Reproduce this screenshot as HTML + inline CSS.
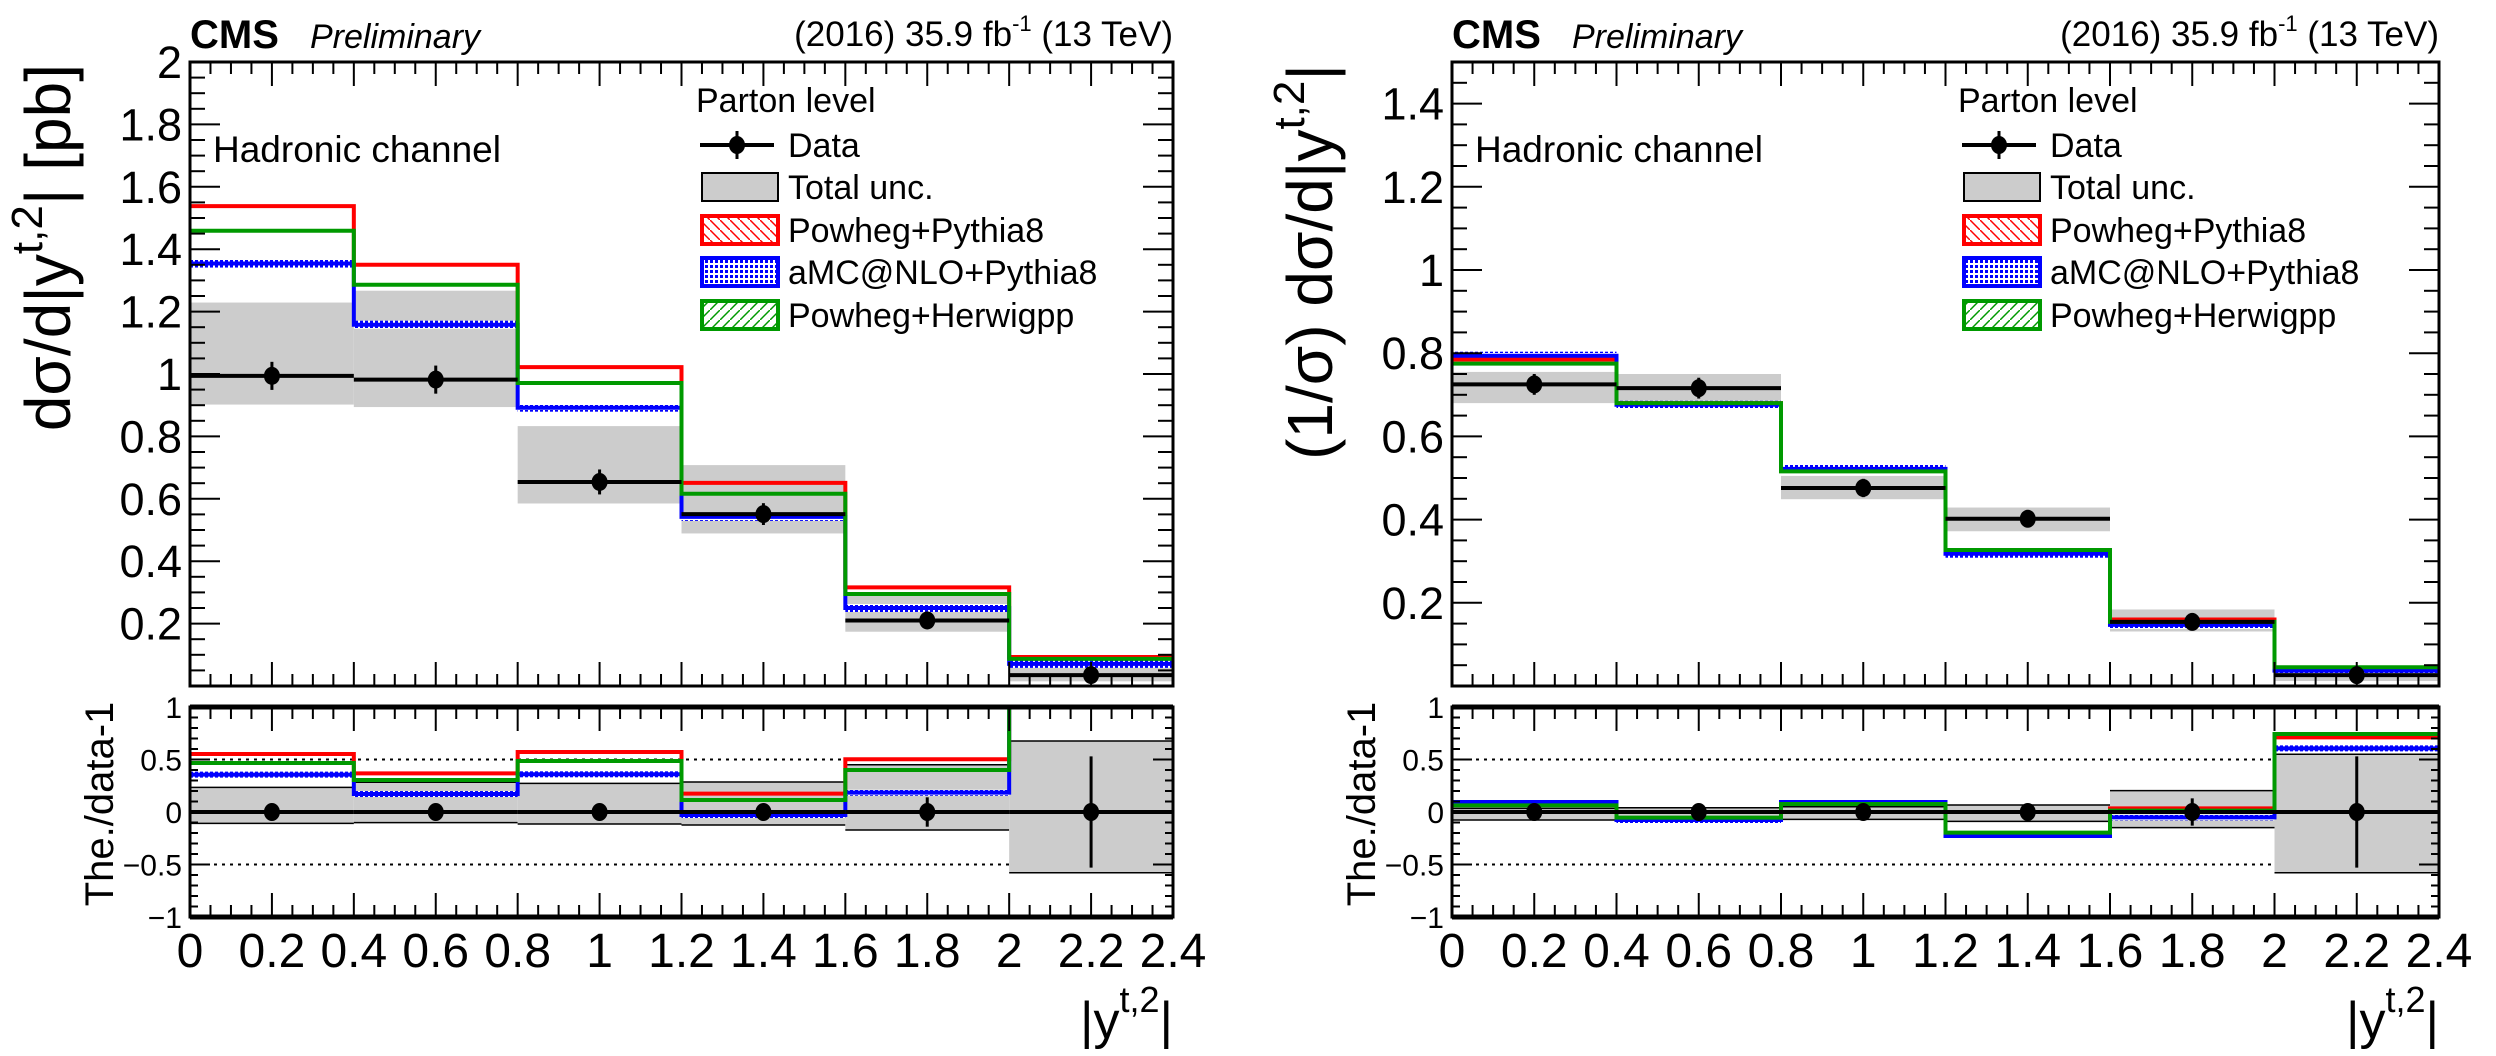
<!DOCTYPE html>
<html><head><meta charset="utf-8"><style>
html,body{margin:0;padding:0;background:#fff;}
svg{display:block;font-family:"Liberation Sans",sans-serif;}
</style></head><body>
<svg id="chart" width="2496" height="1056" viewBox="0 0 2496 1056" xmlns="http://www.w3.org/2000/svg">
<defs>
<pattern id="hatchR" width="10" height="10" patternUnits="userSpaceOnUse"><path d="M0,0 L10,10" stroke="#f00" stroke-width="1.5"/></pattern>
<pattern id="hatchG" width="10" height="10" patternUnits="userSpaceOnUse"><path d="M10,0 L0,10" stroke="#090" stroke-width="1.5"/></pattern>
<pattern id="dotB" width="5" height="5" patternUnits="userSpaceOnUse"><rect width="5" height="5" fill="#fff"/><rect width="3" height="3" fill="#00f"/></pattern>
</defs>
</svg>
<script>
// ---- data ----
const binEdges = [0,0.4,0.8,1.2,1.6,2.0,2.4];
const xTickLabels = ["0","0.2","0.4","0.6","0.8","1","1.2","1.4","1.6","1.8","2","2.2","2.4"];
// left panel (absolute)
const absData = [0.994,0.982,0.654,0.551,0.210,0.035];
const absDataErr = [0.045,0.045,0.04,0.035,0.02,0.02];
const absUncHi = [1.229,1.267,0.833,0.708,0.295,0.060];
const absUncLo = [0.902,0.894,0.585,0.489,0.174,0.015];
const absPowPy = [1.538,1.350,1.022,0.651,0.316,0.093];
const absAmc = [1.354,1.158,0.892,0.542,0.250,0.071];
const absPowHw = [1.459,1.286,0.971,0.616,0.295,0.087];
const absYTicks = ["0.2","0.4","0.6","0.8","1","1.2","1.4","1.6","1.8","2"];
// left ratio
const absRatioErr = [0.05,0.05,0.06,0.06,0.14,0.53];
const absRUncHi = [0.235,0.283,0.273,0.286,0.45,0.676];
const absRUncLo = [-0.108,-0.101,-0.114,-0.124,-0.171,-0.578];
const absRPowPy = [0.552,0.368,0.571,0.175,0.502,1.4];
const absRAmc = [0.356,0.171,0.359,-0.029,0.184,1.05];
const absRPowHw = [0.467,0.305,0.486,0.114,0.40,1.3];
// right panel (normalised)
const normData = [0.725,0.716,0.476,0.402,0.154,0.026];
const normDataErr = [0.025,0.025,0.022,0.02,0.012,0.012];
const normUncHi = [0.755,0.750,0.505,0.429,0.184,0.040];
const normUncLo = [0.680,0.684,0.449,0.372,0.131,0.012];
const normPowPy = [0.785,0.680,0.518,0.325,0.160,0.042];
const normAmc = [0.794,0.676,0.522,0.318,0.147,0.037];
const normPowHw = [0.775,0.680,0.516,0.327,0.154,0.045];
const normYTicks = ["0.2","0.4","0.6","0.8","1","1.2","1.4"];
// right ratio
const normRatioErr = [0.05,0.05,0.05,0.05,0.13,0.53];
const normRUncHi = [0.035,0.041,0.05,0.067,0.203,0.55];
const normRUncLo = [-0.076,-0.045,-0.07,-0.089,-0.149,-0.578];
const normRPowPy = [0.08,-0.06,0.085,-0.21,0.035,0.711];
const normRAmc = [0.095,-0.076,0.095,-0.229,-0.051,0.606];
const normRPowHw = [0.063,-0.054,0.076,-0.197,0.013,0.743];
const ratioYTicks = [-1,-0.5,0,0.5,1];
const ratioYLabels = ["\u22121","\u22120.5","0","0.5","1"];

const svg = document.getElementById('chart');
const NS = 'http://www.w3.org/2000/svg';
function mk(tag, attrs, parent, text){
  const e = document.createElementNS(NS, tag);
  for (const k in attrs) e.setAttribute(k, attrs[k]);
  if (text !== undefined) e.textContent = text;
  (parent||svg).appendChild(e);
  return e;
}

function drawPanel(X0, X1, name, ymax, data, dErr, uHi, uLo, pp, amc, hw, yTicks, rErr, ruHi, ruLo, rpp, ramc, rhw, yTitle){
  const MT=62, MB=686, RT=707, RB=917;
  const x = v => X0 + (v/2.4)*(X1-X0);
  const y = v => MB - (v/ymax)*(MB-MT);
  const yr = v => RB - ((v+1)/2)*(RB-RT);
  const g = mk('g', {});
  
  
  const clipId = name+'clipM', clipR = name+'clipR';
  const cp = mk('clipPath',{id:clipId},g); mk('rect',{x:X0,y:MT,width:X1-X0,height:MB-MT},cp);
  const cr = mk('clipPath',{id:clipR},g); mk('rect',{x:X0,y:RT,width:X1-X0,height:RB-RT},cr);

  // ---- main panel ----
  const mg = mk('g',{'clip-path':'url(#'+clipId+')'},g);
  for (let i=0;i<6;i++){
    const r = mk('rect',{x:x(binEdges[i]),y:y(uHi[i]),width:x(binEdges[i+1])-x(binEdges[i]),height:y(uLo[i])-y(uHi[i]),fill:'#cccccc'},mg);
    
    
  }
  function step(vals, fy, color, w, nm, parent){
    let d='';
    for (let i=0;i<6;i++){
      d += (i===0?'M':'L')+x(binEdges[i])+','+fy(vals[i])+' L'+x(binEdges[i+1])+','+fy(vals[i]);
    }
    const p = mk('path',{d:d,fill:'none',stroke:color,'stroke-width':w},parent);
    
    
    return p;
  }
  function band(vals, fy, half, fill, parent){
    for (let i=0;i<6;i++){
      mk('rect',{x:x(binEdges[i]),y:fy(vals[i])-half,width:x(binEdges[i+1])-x(binEdges[i]),height:2*half,fill:fill},parent);
    }
  }
  band(amc, y, 4, 'url(#dotB)', mg);
  step(pp, y, '#ff0000', 4, name+'-powheg-pythia8', mg);
  step(amc, y, '#0000ff', 4, name+'-amcnlo-pythia8', mg);
  step(hw, y, '#009900', 4, name+'-powheg-herwigpp', mg);
  function dataPts(vals, errs, fy, parent, nm){
    for (let i=0;i<6;i++){
      const cx = x((binEdges[i]+binEdges[i+1])/2);
      mk('line',{x1:x(binEdges[i]),x2:x(binEdges[i+1]),y1:fy(vals[i]),y2:fy(vals[i]),stroke:'#000','stroke-width':4},parent);
      mk('line',{x1:cx,x2:cx,y1:fy(vals[i]-errs[i]),y2:fy(vals[i]+errs[i]),stroke:'#000','stroke-width':3},parent);
      const c = mk('ellipse',{cx:cx,cy:fy(vals[i]),rx:8,ry:9,fill:'#000'},parent);
      
      
    }
  }
  dataPts(data, dErr, y, mg, name+'-data');
  mk('rect',{x:X0,y:MT,width:X1-X0,height:MB-MT,fill:'none',stroke:'#000','stroke-width':3},g);
  function xTicks(top, bot){
    for (let k=0;k<=48;k++){
      const v = k*0.05, xx = x(v);
      const L = (k%4===0)?24:12;
      mk('line',{x1:xx,x2:xx,y1:bot,y2:bot-L,stroke:'#000','stroke-width':2},g);
      mk('line',{x1:xx,x2:xx,y1:top,y2:top+L,stroke:'#000','stroke-width':2},g);
    }
  }
  xTicks(MT, MB);
  for (let v=0.05; v<ymax+1e-6; v+=0.05){
    const yy = y(v), major = Math.abs(v/0.2-Math.round(v/0.2))<1e-6, L = major?30:15;
    mk('line',{x1:X0,x2:X0+L,y1:yy,y2:yy,stroke:'#000','stroke-width':2},g);
    mk('line',{x1:X1,x2:X1-L,y1:yy,y2:yy,stroke:'#000','stroke-width':2},g);
  }
  yTicks.forEach(t=>{
    const tl = mk('text',{x:X0-8,y:y(parseFloat(t))+16,'font-size':45,'text-anchor':'end'},g,t);
    
    
  });
  mk('text',{x:X0,y:48,'font-size':40,'font-weight':'bold'},g,'CMS');
  mk('text',{x:X0+120,y:48,'font-size':34,'font-style':'italic'},g,'Preliminary');
  const hdr = mk('text',{x:X1,y:46,'font-size':35,'text-anchor':'end'},g);
  mk('tspan',{},hdr,'(2016) 35.9 fb');
  mk('tspan',{'font-size':22,dy:-15},hdr,'-1');
  mk('tspan',{dy:15},hdr,' (13 TeV)');
  mk('text',{x:X0+23,y:162,'font-size':37},g,'Hadronic channel');
  const lg = mk('g',{},g);
  
  
  const LX = X0+506, TX = X0+598;
  mk('text',{x:LX,y:112,'font-size':34},lg,'Parton level');
  const rows=[145,187,230,272,315];
  mk('line',{x1:LX+4,x2:LX+78,y1:rows[0],y2:rows[0],stroke:'#000','stroke-width':4},lg);
  mk('line',{x1:LX+41,x2:LX+41,y1:rows[0]-14,y2:rows[0]+14,stroke:'#000','stroke-width':3},lg);
  mk('ellipse',{cx:LX+41,cy:rows[0],rx:8,ry:9,fill:'#000'},lg);
  mk('rect',{x:LX+6,y:rows[1]-14,width:76,height:28,fill:'#ccc',stroke:'#000','stroke-width':2},lg);
  mk('rect',{x:LX+6,y:rows[2]-14,width:76,height:28,fill:'url(#hatchR)',stroke:'#f00','stroke-width':4},lg);
  mk('rect',{x:LX+6,y:rows[3]-14,width:76,height:28,fill:'url(#dotB)',stroke:'#00f','stroke-width':4},lg);
  mk('rect',{x:LX+6,y:rows[4]-14,width:76,height:28,fill:'url(#hatchG)',stroke:'#090','stroke-width':4},lg);
  const labs=['Data','Total unc.','Powheg+Pythia8','aMC@NLO+Pythia8','Powheg+Herwigpp'];
  labs.forEach((t,i)=>{ const e=mk('text',{x:TX,y:rows[i]+12,'font-size':34},lg,t);
    
     });
  const yt = mk('text',{transform:'translate('+(X0-120)+','+(MT+2)+') rotate(-90)','font-size':64,'text-anchor':'end'},g);
  
  
  yTitle(yt);

  // ---- ratio panel ----
  const rg = mk('g',{'clip-path':'url(#'+clipR+')'},g);
  for (let i=0;i<6;i++){
    const x0=x(binEdges[i]), x1=x(binEdges[i+1]);
    mk('rect',{x:x0,y:yr(ruHi[i]),width:x1-x0,height:yr(ruLo[i])-yr(ruHi[i]),fill:'#cccccc'},rg);
    mk('line',{x1:x0,x2:x1,y1:yr(ruHi[i]),y2:yr(ruHi[i]),stroke:'#000','stroke-width':1.5},rg);
    mk('line',{x1:x0,x2:x1,y1:yr(ruLo[i]),y2:yr(ruLo[i]),stroke:'#000','stroke-width':1.5},rg);
  }
  [0.5,-0.5].forEach(v=>mk('line',{x1:X0,x2:x(2.0),y1:yr(v),y2:yr(v),stroke:'#000','stroke-width':2,'stroke-dasharray':'3,5'},rg));
  band(ramc, yr, 3, 'url(#dotB)', rg);
  step(rpp, yr, '#ff0000', 4, name+'-ratio-powheg-pythia8', rg);
  step(ramc, yr, '#0000ff', 4, name+'-ratio-amcnlo-pythia8', rg);
  step(rhw, yr, '#009900', 4, name+'-ratio-powheg-herwigpp', rg);
  const zeros = [0,0,0,0,0,0];
  dataPts(zeros, rErr, yr, rg, name+'-ratio-data');
  mk('rect',{x:X0,y:RT,width:X1-X0,height:RB-RT,fill:'none',stroke:'#000','stroke-width':3},g);
  mk('line',{x1:X0,x2:X1,y1:RT,y2:RT,stroke:'#000','stroke-width':5},g);
  mk('line',{x1:X0,x2:X1,y1:RB,y2:RB,stroke:'#000','stroke-width':5},g);
  xTicks(RT, RB);
  for (let k=-10;k<=10;k++){
    const yy=yr(k*0.1), L=(k%5===0)?20:8;
    mk('line',{x1:X0,x2:X0+L,y1:yy,y2:yy,stroke:'#000','stroke-width':2},g);
    mk('line',{x1:X1,x2:X1-L,y1:yy,y2:yy,stroke:'#000','stroke-width':2},g);
  }
  ratioYTicks.forEach((v,i)=>{
    mk('text',{x:X0-8,y:yr(v)+11,'font-size':30,'text-anchor':'end'},g,ratioYLabels[i]);
  });
  const rt = mk('text',{transform:'translate('+(X0-77)+','+(RT+97)+') rotate(-90)','font-size':40,'text-anchor':'middle'},g,'The./data-1');
  
  
  xTickLabels.forEach((t,i)=>{
    const e = mk('text',{x:x(i*0.2),y:967,'font-size':48,'text-anchor':'middle'},g,t);
    
    
  });
  const xt = mk('text',{x:X1,y:1038,'font-size':52,'text-anchor':'end'},g);
  
  
  mk('tspan',{},xt,'|y');
  mk('tspan',{'font-size':36,dy:-26},xt,'t,2');
  mk('tspan',{dy:26},xt,'|');
}

drawPanel(190,1173,'abs',2.0,absData,absDataErr,absUncHi,absUncLo,absPowPy,absAmc,absPowHw,absYTicks,
  absRatioErr,absRUncHi,absRUncLo,absRPowPy,absRAmc,absRPowHw,
  function(t){ mk('tspan',{},t,'d\u03C3/d|y'); mk('tspan',{'font-size':44,dy:-28},t,'t,2'); mk('tspan',{dy:28},t,'| [pb]'); });
drawPanel(1452,2439,'norm',1.5,normData,normDataErr,normUncHi,normUncLo,normPowPy,normAmc,normPowHw,normYTicks,
  normRatioErr,normRUncHi,normRUncLo,normRPowPy,normRAmc,normRPowHw,
  function(t){ mk('tspan',{},t,'(1/\u03C3) d\u03C3/d|y'); mk('tspan',{'font-size':44,dy:-28},t,'t,2'); mk('tspan',{dy:28},t,'|'); });
</script>
</body></html>
